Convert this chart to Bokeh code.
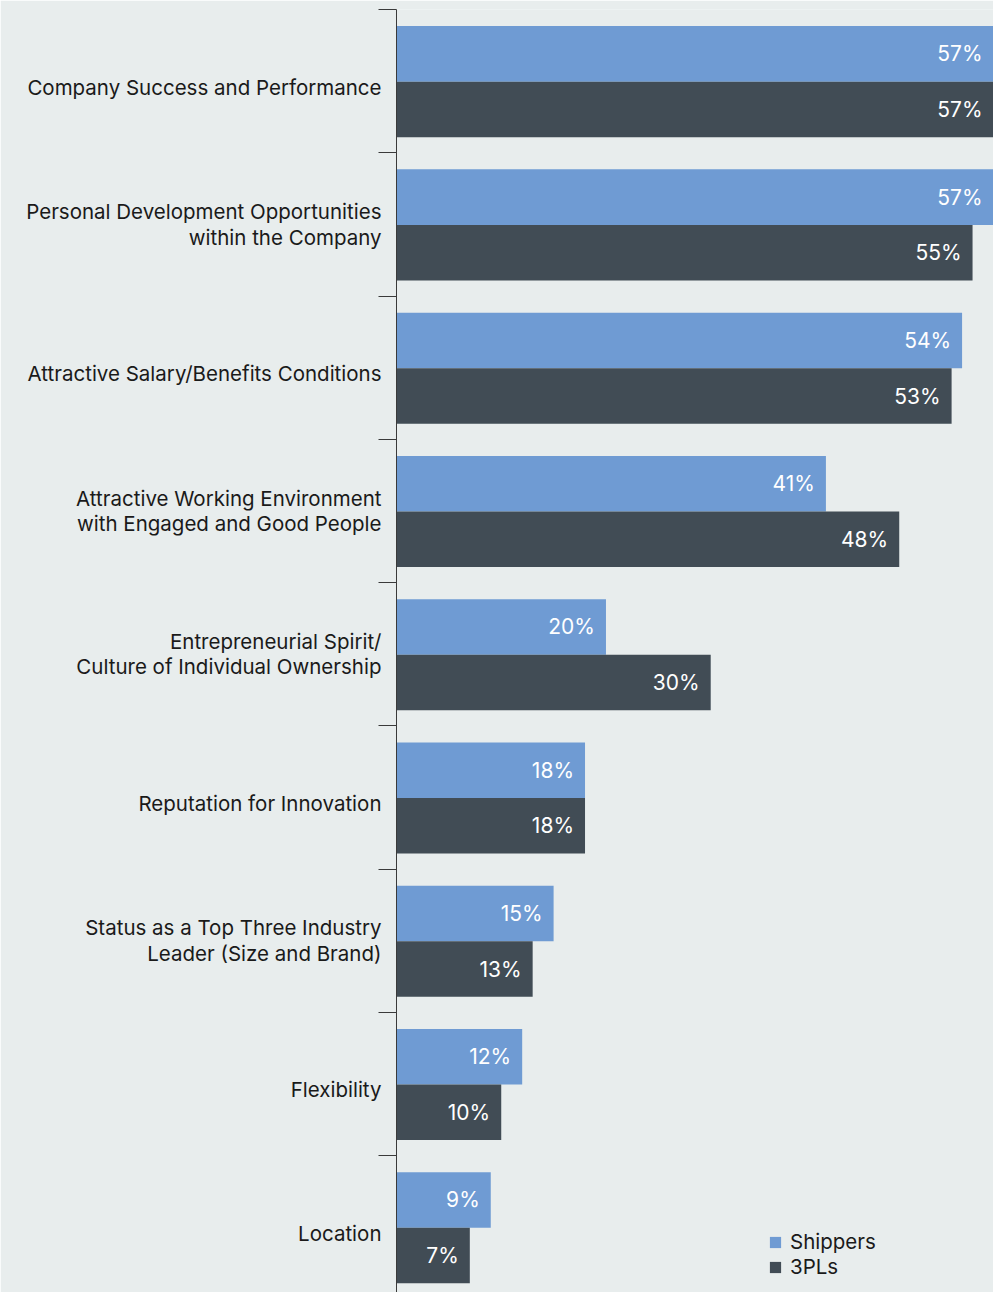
from bokeh.plotting import figure
from bokeh.models import Range1d, LinearAxis, FixedTicker, ColumnDataSource, Legend, LegendItem
from bokeh.core.properties import value
from bokeh.embed import file_html
from bokeh.resources import INLINE

categories = [
    "Company Success and Performance",
    "Personal Development Opportunities\nwithin the Company",
    "Attractive Salary/Benefits Conditions",
    "Attractive Working Environment\nwith Engaged and Good People",
    "Entrepreneurial Spirit/\nCulture of Individual Ownership",
    "Reputation for Innovation",
    "Status as a Top Three Industry\nLeader (Size and Brand)",
    "Flexibility",
    "Location",
]
shippers = [57, 57, 54, 41, 20, 18, 15, 12, 9]
tpls = [57, 55, 53, 48, 30, 18, 13, 10, 7]

BG = "#e8eded"
C_SHIP = "#6f9bd3"
C_3PL = "#414c55"
FONT = "Inter"

n = len(categories)
centers = [n - i - 0.5 for i in range(n)]
bounds = [float(k) for k in range(n + 1)]
# single-line labels sit slightly below the band centre in the original
label_pos = [c if "\n" in lbl else c - 0.042 for c, lbl in zip(centers, categories)]

p = figure(width=993, height=1292, output_backend="svg", toolbar_location=None,
           x_range=Range1d(0, 57), y_range=Range1d(0.044, n),
           x_axis_location=None, y_axis_location=None,
           min_border_left=396, min_border_right=0, min_border_top=9, min_border_bottom=0)
p.background_fill_color = BG
p.border_fill_color = BG
p.outline_line_color = None
p.xgrid.visible = False
p.ygrid.visible = False

src = ColumnDataSource(dict(
    ys=[c + 0.19 for c in centers],
    yt=[c - 0.198 for c in centers],
    ship=shippers,
    tpl=tpls,
    ship_lbl=[f"{v}%" for v in shippers],
    tpl_lbl=[f"{v}%" for v in tpls],
))

r1 = p.hbar(y="ys", right="ship", left=0, height=0.388, source=src, color=C_SHIP, line_color=None)
r2 = p.hbar(y="yt", right="tpl", left=0, height=0.388, source=src, color=C_3PL, line_color=None)

p.text(x="ship", y="ys", text="ship_lbl", source=src, x_offset=-11, text_align="right",
       text_baseline="middle", text_color="white", text_font=value(FONT), text_font_size="21px")
p.text(x="tpl", y="yt", text="tpl_lbl", source=src, x_offset=-11, text_align="right",
       text_baseline="middle", text_color="white", text_font=value(FONT), text_font_size="21px")

ax = LinearAxis(ticker=FixedTicker(ticks=label_pos, minor_ticks=bounds))
ax.major_label_overrides = {c: lbl for c, lbl in zip(label_pos, categories)}
ax.major_tick_out = 0
ax.major_tick_in = 0
ax.minor_tick_out = 18
ax.minor_tick_in = 0
ax.minor_tick_line_color = "#3a3a3a"
ax.axis_line_color = "#3a3a3a"
ax.axis_line_width = 1
ax.major_label_standoff = -3
ax.major_label_text_font = FONT
ax.major_label_text_font_size = "20.5px"
ax.major_label_text_color = "#1a1a1a"
ax.major_label_text_line_height = 1.02
p.add_layout(ax, "left")

legend = Legend(items=[LegendItem(label="Shippers", renderers=[r1]),
                       LegendItem(label="3PLs", renderers=[r2])],
                location=(372, 13), orientation="vertical")
legend.background_fill_alpha = 0
legend.border_line_color = None
legend.padding = 0
legend.margin = 0
legend.spacing = 0
legend.glyph_width = 14
legend.glyph_height = 14
legend.label_height = 25
legend.label_standoff = 8
legend.label_text_font = FONT
legend.label_text_font_size = "20.5px"
legend.label_text_color = "#1a1a1a"
p.add_layout(legend, "center")

open("out.html", "w").write(file_html(p, INLINE))
